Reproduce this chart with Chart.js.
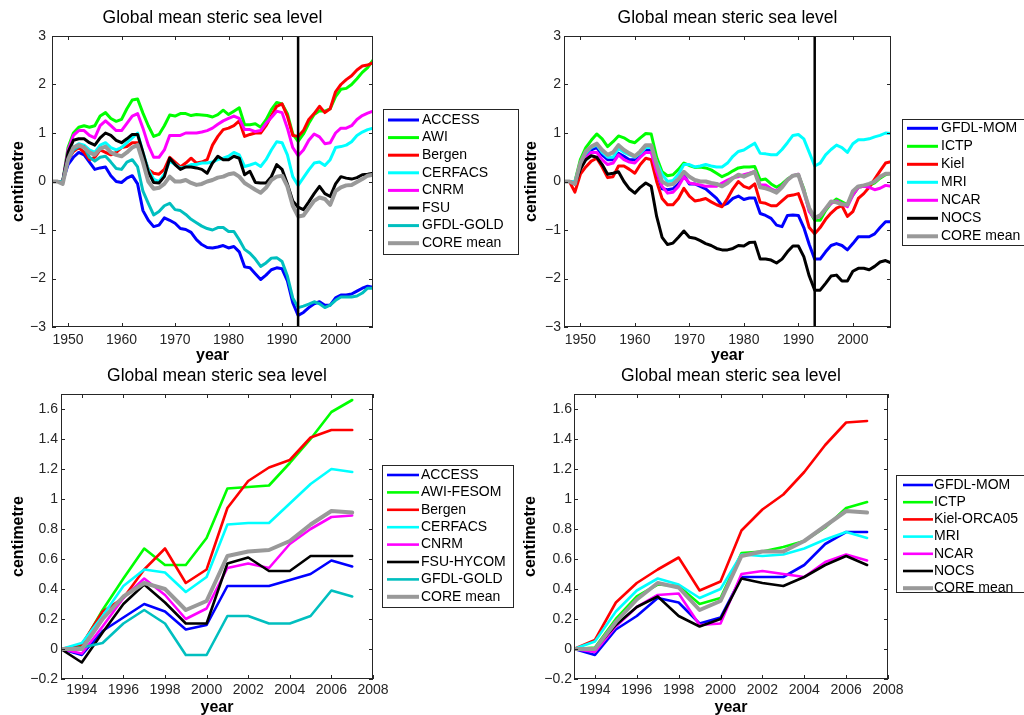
<!DOCTYPE html>
<html>
<head>
<meta charset="utf-8">
<title>Global mean steric sea level</title>
<script src="https://cdn.jsdelivr.net/npm/chart.js@4.4.1/dist/chart.umd.min.js"></script>
<style>
  html, body { margin: 0; padding: 0; background: #fff; width: 1024px; height: 715px; overflow: hidden; }
  canvas { position: absolute; }
  #tl { left: 0; top: 0; width: 520px; height: 370px; }
  #tr { left: 520px; top: 0; width: 504px; height: 370px; }
  #bl { left: 0; top: 358px; width: 520px; height: 362px; }
  #br { left: 520px; top: 358px; width: 504px; height: 362px; }
</style>
</head>
<body>
<canvas id="tl" width="520" height="370"></canvas>
<canvas id="tr" width="504" height="370"></canvas>
<canvas id="bl" width="520" height="362"></canvas>
<canvas id="br" width="504" height="362"></canvas>
<script>
// ---- data ----
const longYears = [1947, 1948, 1949, 1950, 1951, 1952, 1953, 1954, 1955, 1956,
  1957, 1958, 1959, 1960, 1961, 1962, 1963, 1964, 1965, 1966,
  1967, 1968, 1969, 1970, 1971, 1972, 1973, 1974, 1975, 1976,
  1977, 1978, 1979, 1980, 1981, 1982, 1983, 1984, 1985, 1986,
  1987, 1988, 1989, 1990, 1991, 1992, 1993, 1994, 1995, 1996,
  1997, 1998, 1999, 2000, 2001, 2002, 2003, 2004, 2005, 2006, 2007];
const shortYears = [1993, 1994, 1995, 1996, 1997, 1998, 1999, 2000, 2001, 2002, 2003, 2004, 2005, 2006, 2007];

const longYearTicks = [1950, 1960, 1970, 1980, 1990, 2000];
const longLevelTicks = [-3, -2, -1, 0, 1, 2, 3];
const shortYearTicks = [1994, 1996, 1998, 2000, 2002, 2004, 2006, 2008];
const shortLevelTicks = [-0.2, 0, 0.2, 0.4, 0.6, 0.8, 1, 1.2, 1.4, 1.6];
const altimetryStart = 1993;

const tlNames = ["ACCESS", "AWI", "Bergen", "CERFACS", "CNRM", "FSU", "GFDL-GOLD", "CORE mean"];
const trNames = ["GFDL-MOM", "ICTP", "Kiel", "MRI", "NCAR", "NOCS", "CORE mean"];
const blNames = ["ACCESS", "AWI-FESOM", "Bergen", "CERFACS", "CNRM", "FSU-HYCOM", "GFDL-GOLD", "CORE mean"];
const brNames = ["GFDL-MOM", "ICTP", "Kiel-ORCA05", "MRI", "NCAR", "NOCS", "CORE mean"];

// 1947-2007, centimetre
const tlAccess = [0, 0, 0, 0.35, 0.5, 0.6, 0.55, 0.4, 0.25, 0.28,
  0.3, 0.12, 0, -0.02, 0.07, 0.12, -0.05, -0.6, -0.8, -0.93,
  -0.9, -0.75, -0.8, -0.86, -0.97, -0.99, -1.05, -1.2, -1.3, -1.36,
  -1.37, -1.35, -1.32, -1.37, -1.34, -1.45, -1.76, -1.78, -1.9, -2.02,
  -1.93, -1.82, -1.78, -1.8, -2.05, -2.5, -2.76, -2.7, -2.6, -2.52,
  -2.48, -2.55, -2.55, -2.4, -2.34, -2.34, -2.32, -2.26, -2.2, -2.16, -2.18];
const tlAwi = [0, 0, 0, 0.7, 1.0, 1.12, 1.15, 1.12, 1.15, 1.35,
  1.42, 1.3, 1.24, 1.28, 1.5, 1.68, 1.7, 1.41, 1.15, 0.93,
  0.97, 1.15, 1.37, 1.35, 1.4, 1.4, 1.36, 1.38, 1.37, 1.36,
  1.33, 1.38, 1.47, 1.38, 1.45, 1.52, 1.17, 1.17, 1.19, 1.12,
  1.27, 1.48, 1.63, 1.6, 1.4, 0.98, 0.83, 0.98, 1.2, 1.38,
  1.46, 1.45, 1.5, 1.75, 1.9, 1.92, 2.0, 2.12, 2.25, 2.35, 2.5];
const tlBergen = [0, 0, 0, 0.45, 0.62, 0.7, 0.6, 0.45, 0.5, 0.65,
  0.6, 0.55, 0.6, 0.7, 0.72, 0.8, 0.8, 0.55, 0.25, 0.17,
  0.15, 0.25, 0.5, 0.4, 0.3, 0.38, 0.48, 0.38, 0.4, 0.45,
  0.75, 0.93, 1.07, 1.1, 1.15, 1.25, 0.93, 0.97, 1.0, 1.0,
  1.15, 1.35, 1.55, 1.6, 1.35, 0.95, 0.93, 1.05, 1.28, 1.4,
  1.55, 1.42, 1.5, 1.85, 2.0, 2.1, 2.18, 2.3, 2.38, 2.4, 2.45];
const tlCerfacs = [0, 0, 0, 0.5, 0.7, 0.78, 0.75, 0.65, 0.6, 0.75,
  0.8, 0.7, 0.65, 0.7, 0.8, 0.9, 1.0, 0.6, 0.25, 0.05,
  0, 0.15, 0.42, 0.35, 0.28, 0.3, 0.35, 0.35, 0.38, 0.38,
  0.4, 0.45, 0.48, 0.52, 0.6, 0.55, 0.31, 0.34, 0.38, 0.31,
  0.45, 0.65, 0.82, 0.8, 0.55, 0.1, -0.08, 0.08, 0.24, 0.38,
  0.4, 0.33, 0.45, 0.7, 0.72, 0.75, 0.82, 0.95, 1.02, 1.07, 1.1];
const tlCnrm = [0, 0, 0, 0.65, 0.95, 1.05, 1.05, 0.95, 0.9, 1.15,
  1.25, 1.15, 1.05, 1.05, 1.2, 1.35, 1.4, 1.1, 0.75, 0.5,
  0.5, 0.65, 0.95, 0.95, 0.95, 1.0, 1.0, 1.0, 1.02, 1.05,
  1.1, 1.18, 1.25, 1.3, 1.35, 1.3, 1.07, 1.07, 1.03, 1.05,
  1.2, 1.32, 1.45, 1.42, 1.1, 0.7, 0.53, 0.65, 0.85, 0.98,
  0.92, 0.78, 0.8, 1.0, 1.1, 1.1, 1.15, 1.28, 1.36, 1.41, 1.45];
const tlFsu = [0, 0, 0, 0.6, 0.85, 0.88, 0.88, 0.8, 0.75, 0.9,
  1.0, 0.95, 0.85, 0.8, 0.88, 0.97, 0.97, 0.6, 0.2, -0.02,
  -0.03, 0.1, 0.48, 0.35, 0.25, 0.3, 0.3, 0.28, 0.25, 0.17,
  0.38, 0.52, 0.45, 0.45, 0.52, 0.48, 0.14, 0.21, -0.02, -0.03,
  -0.03, 0.1, 0.35, 0.25, -0.05, -0.4, -0.53, -0.58, -0.42, -0.25,
  -0.1, -0.25, -0.31, -0.05, 0.1, 0.07, 0.05, 0.08, 0.14, 0.15, 0.17];
const tlGfdlGold = [0, 0, 0, 0.45, 0.65, 0.72, 0.72, 0.5, 0.42, 0.5,
  0.52, 0.4, 0.27, 0.25, 0.4, 0.45, 0.3, -0.2, -0.45, -0.69,
  -0.62, -0.5, -0.45, -0.58, -0.6, -0.68, -0.78, -0.85, -0.92, -0.97,
  -1.0, -0.95, -0.95, -1.03, -1.03, -1.2, -1.4, -1.48, -1.6, -1.75,
  -1.68, -1.58, -1.57, -1.65, -1.95, -2.4, -2.6, -2.57, -2.53, -2.48,
  -2.52, -2.6, -2.55, -2.45, -2.38, -2.38, -2.38, -2.36, -2.3, -2.2, -2.2];
const tlCoreMean = [0, 0, -0.05, 0.45, 0.7, 0.75, 0.7, 0.6, 0.55, 0.68,
  0.72, 0.6, 0.55, 0.52, 0.6, 0.7, 0.75, 0.4, 0, -0.15,
  -0.13, -0.05, 0.1, 0, 0, 0.03, -0.03, -0.07, -0.05, 0,
  0.03, 0.08, 0.1, 0.15, 0.17, 0.1, -0.03, -0.1, -0.17, -0.23,
  -0.13, 0.03, 0.1, 0.12, -0.1, -0.5, -0.72, -0.7, -0.55, -0.4,
  -0.33, -0.36, -0.48, -0.2, -0.12, -0.08, -0.07, -0.01, 0.05, 0.12, 0.14];

const trGfdlMom = [0, 0, -0.05, 0.3, 0.5, 0.65, 0.7, 0.55, 0.45, 0.45,
  0.58, 0.52, 0.45, 0.45, 0.55, 0.65, 0.65, 0.2, -0.15, -0.17,
  -0.15, -0.05, 0.13, -0.05, -0.05, -0.1, -0.15, -0.25, -0.35, -0.5,
  -0.45, -0.35, -0.3, -0.37, -0.34, -0.34, -0.66, -0.7, -0.76, -0.9,
  -0.93, -0.7, -0.69, -0.7, -0.95, -1.3, -1.6, -1.6, -1.45, -1.32,
  -1.28, -1.32, -1.41, -1.28, -1.14, -1.14, -1.14, -1.08, -0.95, -0.83, -0.83];
const trIctp = [0, 0, 0, 0.45, 0.7, 0.85, 0.98, 0.88, 0.72, 0.82,
  0.94, 0.9, 0.83, 0.8, 0.9, 0.99, 0.98, 0.5, 0.2, 0.12,
  0.14, 0.25, 0.38, 0.33, 0.29, 0.3, 0.28, 0.24, 0.17, 0.1,
  0.15, 0.22, 0.28, 0.3, 0.3, 0.31, 0.03, 0.05, -0.05, -0.12,
  -0.05, 0.05, 0.12, 0.14, -0.15, -0.6, -0.8, -0.8, -0.6, -0.45,
  -0.36, -0.42, -0.48, -0.28, -0.12, -0.1, -0.08, -0.03, 0.07, 0.14, 0.17];
const trKiel = [0, 0, -0.22, 0.15, 0.3, 0.42, 0.48, 0.3, 0.08, 0.1,
  0.32, 0.32, 0.25, 0.17, 0.35, 0.48, 0.45, 0, -0.35, -0.48,
  -0.48, -0.35, -0.14, -0.3, -0.4, -0.38, -0.35, -0.42, -0.48, -0.52,
  -0.35, -0.15, 0, -0.1, -0.14, -0.05, -0.43, -0.45, -0.5, -0.5,
  -0.4, -0.3, -0.28, -0.25, -0.55, -0.95, -1.08, -0.95, -0.78, -0.65,
  -0.55, -0.5, -0.72, -0.62, -0.35, -0.25, -0.12, 0.05, 0.22, 0.38, 0.41];
const trMri = [0, 0, 0, 0.35, 0.58, 0.7, 0.75, 0.6, 0.5, 0.5,
  0.68, 0.6, 0.55, 0.5, 0.58, 0.7, 0.7, 0.4, 0.15, 0,
  0.02, 0.15, 0.35, 0.35, 0.3, 0.32, 0.35, 0.32, 0.3, 0.3,
  0.38, 0.52, 0.62, 0.65, 0.72, 0.79, 0.58, 0.57, 0.55, 0.55,
  0.66, 0.8, 0.95, 0.97, 0.88, 0.6, 0.32, 0.38, 0.55, 0.66,
  0.75, 0.7, 0.6, 0.78, 0.86, 0.86, 0.88, 0.92, 0.95, 1.0, 0.99];
const trNcar = [0, 0, -0.05, 0.3, 0.48, 0.6, 0.6, 0.45, 0.35, 0.38,
  0.55, 0.45, 0.4, 0.38, 0.5, 0.6, 0.6, 0.2, -0.1, -0.24,
  -0.22, -0.1, 0.1, -0.03, -0.05, -0.07, -0.1, -0.1, -0.1, -0.03,
  0.03, 0.08, 0.1, 0.14, 0.17, 0.21, -0.07, -0.07, -0.15, -0.2,
  -0.1, 0.03, 0.12, 0.15, -0.2, -0.62, -0.76, -0.72, -0.56, -0.45,
  -0.4, -0.46, -0.52, -0.28, -0.12, -0.1, -0.12, -0.17, -0.14, -0.08, -0.1];
const trNocs = [0, 0, -0.05, 0.25, 0.45, 0.53, 0.5, 0.35, 0.15, 0.17,
  0.2, 0, -0.15, -0.24, -0.12, -0.03, -0.1, -0.72, -1.15, -1.3,
  -1.27, -1.15, -1.02, -1.15, -1.17, -1.22, -1.28, -1.32, -1.38, -1.41,
  -1.41, -1.38, -1.32, -1.33, -1.26, -1.25, -1.6, -1.6, -1.62, -1.68,
  -1.6, -1.45, -1.33, -1.33, -1.55, -1.95, -2.24, -2.24, -2.1, -1.95,
  -1.93, -2.05, -2.05, -1.85, -1.79, -1.79, -1.82, -1.75, -1.66, -1.63, -1.68];
const trCoreMean = [0, 0, -0.05, 0.38, 0.62, 0.72, 0.78, 0.65, 0.55, 0.6,
  0.75, 0.65, 0.58, 0.52, 0.62, 0.75, 0.75, 0.35, 0, -0.07,
  -0.05, 0.05, 0.2, 0.1, 0.03, 0, 0, -0.03, -0.05, -0.1,
  -0.03, 0.07, 0.14, 0.1, 0.15, 0.2, -0.12, -0.14, -0.18, -0.23,
  -0.12, 0.03, 0.12, 0.14, -0.2, -0.55, -0.75, -0.7, -0.56, -0.41,
  -0.43, -0.47, -0.48, -0.2, -0.1, -0.08, -0.05, 0, 0.1, 0.16, 0.16];

// 1993-2007, centimetre
const blAccess = [0, -0.04, 0.12, 0.21, 0.3, 0.25, 0.13, 0.16, 0.42, 0.42, 0.42, 0.46, 0.5, 0.59, 0.55];
const blAwiFesom = [0, 0.02, 0.26, 0.47, 0.67, 0.56, 0.56, 0.74, 1.07, 1.08, 1.09, 1.24, 1.4, 1.58, 1.66];
const blBergen = [0, 0.03, 0.25, 0.34, 0.53, 0.67, 0.44, 0.53, 0.94, 1.12, 1.21, 1.26, 1.41, 1.46, 1.46];
const blCerfacs = [0, 0.04, 0.22, 0.42, 0.53, 0.51, 0.38, 0.48, 0.83, 0.84, 0.84, 0.97, 1.1, 1.2, 1.18];
const blCnrm = [0, -0.03, 0.15, 0.34, 0.47, 0.36, 0.2, 0.27, 0.54, 0.57, 0.54, 0.7, 0.8, 0.88, 0.89];
const blFsuHycom = [0, -0.09, 0.11, 0.3, 0.43, 0.31, 0.17, 0.17, 0.57, 0.61, 0.52, 0.52, 0.62, 0.62, 0.62];
const blGfdlGold = [0, 0.01, 0.04, 0.17, 0.26, 0.17, -0.04, -0.04, 0.22, 0.22, 0.17, 0.17, 0.22, 0.39, 0.35];
const blCoreMean = [0, 0, 0.2, 0.35, 0.44, 0.4, 0.26, 0.32, 0.62, 0.65, 0.66, 0.72, 0.83, 0.92, 0.91];

const brGfdlMom = [0, -0.04, 0.13, 0.22, 0.34, 0.31, 0.17, 0.21, 0.48, 0.48, 0.48, 0.56, 0.7, 0.78, 0.78];
const brIctp = [0, 0.01, 0.2, 0.35, 0.43, 0.42, 0.3, 0.34, 0.64, 0.65, 0.68, 0.72, 0.81, 0.94, 0.98];
const brKielOrca05 = [0, 0.06, 0.31, 0.44, 0.53, 0.61, 0.39, 0.45, 0.79, 0.93, 1.03, 1.18, 1.36, 1.51, 1.52];
const brMri = [0, 0.05, 0.25, 0.39, 0.47, 0.43, 0.34, 0.4, 0.63, 0.62, 0.63, 0.67, 0.73, 0.78, 0.74];
const brNcar = [0, -0.02, 0.15, 0.28, 0.36, 0.37, 0.16, 0.17, 0.5, 0.52, 0.5, 0.48, 0.58, 0.63, 0.59];
const brNocs = [0, 0, 0.16, 0.28, 0.35, 0.22, 0.15, 0.2, 0.47, 0.44, 0.42, 0.48, 0.56, 0.62, 0.56];
const brCoreMean = [0, 0, 0.18, 0.33, 0.44, 0.41, 0.26, 0.32, 0.62, 0.65, 0.65, 0.72, 0.82, 0.92, 0.91];

// ---- style ----
const FONT = '"Liberation Sans", Arial, Helvetica, sans-serif';
const colors8 = ["#0000ff", "#00ff00", "#ff0000", "#00ffff", "#ff00ff", "#000000", "#00bfbf", "#999999"];
const colors7 = ["#0000ff", "#00ff00", "#ff0000", "#00ffff", "#ff00ff", "#000000", "#999999"];

function fmtTick(v) {
  return v < 0 ? "\u2212" + Math.abs(v) : String(v);
}

// box, inward ticks, 1993 marker and the boxed legend
const framePlugin = {
  id: "frame",
  afterDatasetsDraw(chart, args, opts) {
    const { ctx, chartArea: a, scales: { x, y } } = chart;
    ctx.save();
    if (opts.marker != null) {
      const px = x.getPixelForValue(opts.marker);
      ctx.strokeStyle = "#000";
      ctx.lineWidth = 2.5;
      ctx.beginPath();
      ctx.moveTo(px, a.top);
      ctx.lineTo(px, a.bottom);
      ctx.stroke();
    }
    ctx.strokeStyle = "#262626";
    ctx.lineWidth = 1;
    ctx.strokeRect(a.left + 0.5, a.top + 0.5, a.right - a.left - 1, a.bottom - a.top - 1);
    ctx.beginPath();
    x.ticks.forEach(t => {
      const p = Math.round(x.getPixelForValue(t.value)) + 0.5;
      ctx.moveTo(p, a.bottom); ctx.lineTo(p, a.bottom - 4);
      ctx.moveTo(p, a.top); ctx.lineTo(p, a.top + 4);
    });
    y.ticks.forEach(t => {
      const p = Math.round(y.getPixelForValue(t.value)) + 0.5;
      ctx.moveTo(a.left, p); ctx.lineTo(a.left + 4, p);
      ctx.moveTo(a.right, p); ctx.lineTo(a.right - 4, p);
    });
    ctx.stroke();
    ctx.restore();
  },
  afterDraw(chart, args, opts) {
    const lg = opts.legend;
    if (!lg) return;
    const ctx = chart.ctx;
    ctx.save();
    ctx.fillStyle = "#fff";
    ctx.fillRect(lg.x, lg.y, lg.w, lg.h);
    ctx.strokeStyle = "#262626";
    ctx.lineWidth = 1;
    ctx.strokeRect(lg.x + 0.5, lg.y + 0.5, lg.w, lg.h);
    ctx.font = "14px " + FONT;
    ctx.textBaseline = "middle";
    chart.data.datasets.forEach((ds, i) => {
      const cy = lg.row0 + i * lg.rowH;
      ctx.strokeStyle = ds.borderColor;
      ctx.lineWidth = ds.borderWidth;
      ctx.beginPath();
      ctx.moveTo(lg.lineX, cy);
      ctx.lineTo(lg.lineX + lg.lineLen, cy);
      ctx.stroke();
      ctx.fillStyle = "#000";
      ctx.fillText(ds.label, lg.textX, cy);
    });
    ctx.restore();
  }
};

function buildPanel(id, p) {
  const datasets = p.names.map((name, i) => ({
    label: name,
    data: p.years.map((yr, k) => ({ x: yr, y: p.series[i][k] })),
    borderColor: p.colors[i],
    borderWidth: name === "CORE mean" ? 4 : p.lineW,
    borderJoinStyle: "round",
    borderCapStyle: "round",
    pointRadius: 0,
    tension: 0,
    fill: false,
    order: p.names.length - i
  }));

  new Chart(document.getElementById(id), {
    type: "line",
    data: { datasets },
    options: {
      responsive: false,
      animation: false,
      devicePixelRatio: 1,
      events: [],
      layout: { padding: { left: 0, top: 0, right: p.padRight, bottom: 0 } },
      plugins: {
        legend: { display: false },
        tooltip: { enabled: false },
        title: {
          display: true,
          text: "Global mean steric sea level",
          fullSize: false,
          color: "#000",
          font: { family: FONT, size: 17.5, weight: "normal" },
          padding: { top: 8, bottom: 7 }
        },
        frame: { marker: p.marker, legend: p.legend }
      },
      scales: {
        x: {
          type: "linear",
          min: p.xMin,
          max: p.xMax,
          grid: { display: false, drawTicks: false },
          border: { display: false },
          afterBuildTicks: s => { s.ticks = p.xTicks.map(v => ({ value: v })); },
          afterFit: s => { s.height = p.xAxisH; },
          ticks: {
            padding: p.xTickPad, color: "#262626", autoSkip: false, maxRotation: 0,
            font: { family: FONT, size: 14 }, callback: fmtTick
          },
          title: {
            display: true, text: "year", color: "#000",
            font: { family: FONT, size: 16, weight: "bold" },
            padding: { top: 0, bottom: p.yearPad }
          }
        },
        y: {
          type: "linear",
          min: p.yMin,
          max: p.yMax,
          grid: { display: false, drawTicks: false },
          border: { display: false },
          afterBuildTicks: s => { s.ticks = p.yTicks.map(v => ({ value: v })); },
          afterFit: s => { s.width = p.yAxisW; },
          ticks: {
            padding: p.yTickPad, color: "#262626", autoSkip: false,
            font: { family: FONT, size: 14 }, callback: fmtTick
          },
          title: {
            display: true, text: "centimetre", color: "#000",
            font: { family: FONT, size: 16, weight: "bold" },
            padding: { top: p.cmPad, bottom: 0 }
          }
        }
      }
    },
    plugins: [framePlugin]
  });
}

buildPanel("tl", {
  names: tlNames, colors: colors8, years: longYears,
  series: [tlAccess, tlAwi, tlBergen, tlCerfacs, tlCnrm, tlFsu, tlGfdlGold, tlCoreMean],
  xMin: 1947, xMax: 2007, yMin: -3, yMax: 3, xTicks: longYearTicks, yTicks: longLevelTicks,
  marker: altimetryStart, lineW: 3,
  padRight: 147, yAxisW: 52, xAxisH: 43, xTickPad: 5, yTickPad: 6, yearPad: 4.4, cmPad: 9,
  legend: { x: 383, y: 109, w: 135, h: 145, row0: 120, rowH: 17.6, lineX: 388, lineLen: 31, textX: 422 }
});

buildPanel("tr", {
  names: trNames, colors: colors7, years: longYears,
  series: [trGfdlMom, trIctp, trKiel, trMri, trNcar, trNocs, trCoreMean],
  xMin: 1947, xMax: 2007, yMin: -3, yMax: 3, xTicks: longYearTicks, yTicks: longLevelTicks,
  marker: altimetryStart, lineW: 3,
  padRight: 133, yAxisW: 44, xAxisH: 43, xTickPad: 5, yTickPad: 3, yearPad: 4.4, cmPad: 2,
  legend: { x: 382, y: 119, w: 150, h: 126, row0: 128.3, rowH: 18, lineX: 387, lineLen: 31, textX: 421 }
});

buildPanel("bl", {
  names: blNames, colors: colors8, years: shortYears,
  series: [blAccess, blAwiFesom, blBergen, blCerfacs, blCnrm, blFsuHycom, blGfdlGold, blCoreMean],
  xMin: 1993, xMax: 2008, yMin: -0.2, yMax: 1.7, xTicks: shortYearTicks, yTicks: shortLevelTicks,
  marker: null, lineW: 2.6,
  padRight: 147, yAxisW: 61, xAxisH: 41, xTickPad: 2.6, yTickPad: 3, yearPad: 2.7, cmPad: 9,
  legend: { x: 382, y: 107, w: 131, h: 142, row0: 117, rowH: 17.4, lineX: 387, lineLen: 32, textX: 421 }
});

buildPanel("br", {
  names: brNames, colors: colors7, years: shortYears,
  series: [brGfdlMom, brIctp, brKielOrca05, brMri, brNcar, brNocs, brCoreMean],
  xMin: 1993, xMax: 2008, yMin: -0.2, yMax: 1.7, xTicks: shortYearTicks, yTicks: shortLevelTicks,
  marker: null, lineW: 2.6,
  padRight: 136, yAxisW: 54, xAxisH: 41, xTickPad: 2.6, yTickPad: 2, yearPad: 2.7, cmPad: 1,
  legend: { x: 376, y: 117, w: 150, h: 117, row0: 127, rowH: 17.2, lineX: 383, lineLen: 30, textX: 414 }
});
</script>
</body>
</html>
